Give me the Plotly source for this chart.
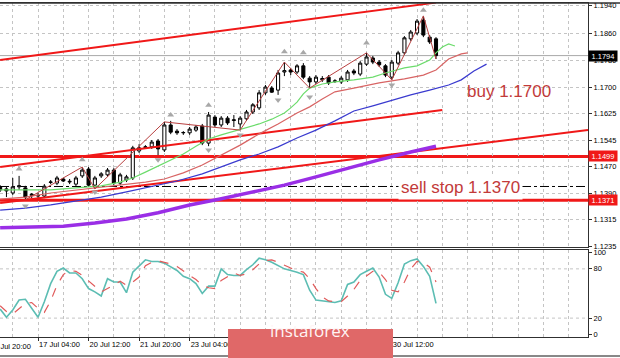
import plotly.graph_objects as go

# ---------------- data ----------------
bar_index = list(range(2, 72))
open_ = [1.1410, 1.1404, 1.1392, 1.1410, 1.1407, 1.1385, 1.1383, 1.1383, 1.1423, 1.1421,
         1.1433, 1.1424, 1.1418, 1.1442, 1.1462, 1.1415, 1.1442, 1.1445, 1.1459, 1.1421,
         1.1430, 1.1436, 1.1515, 1.1525, 1.1527, 1.1544, 1.1518, 1.1591, 1.1573, 1.1568,
         1.1568, 1.1576, 1.1588, 1.1538, 1.1614, 1.1591, 1.1611, 1.1604, 1.1594, 1.1609,
         1.1629, 1.1641, 1.1685, 1.1699, 1.1693, 1.1746, 1.1752, 1.1746, 1.1764, 1.1728,
         1.1717, 1.1723, 1.1731, 1.1718, 1.1717, 1.1723, 1.1749, 1.1740, 1.1769, 1.1787,
         1.1775, 1.1764, 1.1731, 1.1772, 1.1802, 1.1843, 1.1860, 1.1898, 1.1848, 1.1843]
high = [1.1415, 1.1410, 1.1436, 1.1442, 1.1413, 1.1392, 1.1392, 1.1418, 1.1430, 1.1442,
        1.1436, 1.1433, 1.1442, 1.1468, 1.1468, 1.1442, 1.1453, 1.1465, 1.1465, 1.1451,
        1.1445, 1.1530, 1.1535, 1.1532, 1.1547, 1.1550, 1.1600, 1.1603, 1.1579, 1.1573,
        1.1585, 1.1591, 1.1594, 1.1629, 1.1620, 1.1617, 1.1617, 1.1620, 1.1617, 1.1635,
        1.1655, 1.1693, 1.1708, 1.1705, 1.1752, 1.1775, 1.1758, 1.1769, 1.1772, 1.1734,
        1.1737, 1.1734, 1.1737, 1.1725, 1.1734, 1.1752, 1.1755, 1.1778, 1.1802, 1.1793,
        1.1781, 1.1769, 1.1781, 1.1808, 1.1851, 1.1869, 1.1901, 1.1910, 1.1854, 1.1848]
low = [1.1395, 1.1380, 1.1386, 1.1401, 1.1372, 1.1377, 1.1374, 1.1377, 1.1418, 1.1415,
       1.1424, 1.1418, 1.1412, 1.1436, 1.1410, 1.1404, 1.1436, 1.1439, 1.1415, 1.1415,
       1.1424, 1.1430, 1.1509, 1.1521, 1.1521, 1.1503, 1.1512, 1.1564, 1.1562, 1.1562,
       1.1562, 1.1571, 1.1532, 1.1529, 1.1585, 1.1585, 1.1591, 1.1585, 1.1576, 1.1603,
       1.1623, 1.1635, 1.1679, 1.1685, 1.1679, 1.1734, 1.1737, 1.1740, 1.1725, 1.1699,
       1.1711, 1.1717, 1.1708, 1.1714, 1.1711, 1.1717, 1.1737, 1.1734, 1.1764, 1.1769,
       1.1761, 1.1731, 1.1723, 1.1766, 1.1796, 1.1837, 1.1854, 1.1848, 1.1828, 1.1784]
close = [1.1401, 1.1398, 1.1410, 1.1413, 1.1380, 1.1388, 1.1385, 1.1412, 1.1424, 1.1436,
         1.1427, 1.1426, 1.1436, 1.1459, 1.1415, 1.1436, 1.1448, 1.1459, 1.1421, 1.1445,
         1.1439, 1.1524, 1.1524, 1.1527, 1.1541, 1.1521, 1.1591, 1.1570, 1.1568, 1.1569,
         1.1579, 1.1585, 1.1538, 1.1620, 1.1591, 1.1611, 1.1597, 1.1606, 1.1611, 1.1629,
         1.1650, 1.1685, 1.1702, 1.1687, 1.1743, 1.1750, 1.1746, 1.1764, 1.1731, 1.1717,
         1.1731, 1.1727, 1.1714, 1.1720, 1.1728, 1.1746, 1.1743, 1.1772, 1.1790, 1.1775,
         1.1767, 1.1737, 1.1775, 1.1802, 1.1846, 1.1863, 1.1895, 1.1854, 1.1834, 1.1794]

# Alligator-style moving averages (shifted forward)
lips_index = [2, 6, 10, 14, 18, 21, 23, 25, 27, 29, 31, 33, 35, 37, 39, 41, 43, 45, 47, 48,
              49, 50, 51, 53, 55, 58, 61, 63, 66, 68, 70, 71, 72, 73, 74]
lips_value = [1.1401, 1.1401, 1.1401, 1.1407, 1.1413, 1.1424, 1.1436, 1.1453, 1.1471, 1.1489,
              1.1506, 1.1529, 1.1550, 1.1562, 1.1573, 1.1582, 1.1594, 1.1608, 1.1626, 1.1641,
              1.1658, 1.1682, 1.1699, 1.1711, 1.1717, 1.1723, 1.1731, 1.1743, 1.1758, 1.1764,
              1.1781, 1.1802, 1.1819, 1.1828, 1.1822]
teeth_index = [2, 6, 10, 14, 17, 21, 25, 28, 31, 34, 37, 40, 43, 46, 49, 51, 53, 55, 58, 62,
               66, 69, 71, 73, 75, 76]
teeth_value = [1.1374, 1.1380, 1.1392, 1.1401, 1.1407, 1.1415, 1.1424, 1.1433, 1.1451, 1.1474,
               1.1503, 1.1532, 1.1565, 1.1594, 1.1626, 1.1644, 1.1667, 1.1688, 1.1699, 1.1714,
               1.1726, 1.1737, 1.1752, 1.1784, 1.1799, 1.1802]
jaw_index = [2, 6, 10, 14, 18, 22, 26, 30, 34, 38, 40, 43, 46, 49, 52, 55, 58, 61, 64, 67,
             70, 73, 75, 77, 79]
jaw_value = [1.1342, 1.1348, 1.1357, 1.1369, 1.1380, 1.1395, 1.1412, 1.1427, 1.1448, 1.1474,
             1.1489, 1.1506, 1.1527, 1.1553, 1.1576, 1.1603, 1.1632, 1.1647, 1.1664, 1.1679,
             1.1693, 1.1708, 1.1723, 1.1749, 1.1769]
slow_ma_index = [2, 7, 12, 17, 22, 27, 32, 37, 42, 47, 52, 57, 62, 67, 71]
slow_ma_value = [1.1290, 1.1293, 1.1295, 1.1304, 1.1316, 1.1334, 1.1357, 1.1375, 1.1395, 1.1415,
                 1.1439, 1.1465, 1.1489, 1.1512, 1.1529]

zigzag_index = [6, 15, 17, 28, 40, 47, 51, 60, 64, 69, 71]
zigzag_value = [1.1372, 1.1468, 1.1404, 1.1600, 1.1576, 1.1775, 1.1699, 1.1802, 1.1723, 1.1910, 1.1784]

fractal_up_index = [5, 15, 29, 35, 47, 50, 60, 69]
fractal_up_value = [1.1462, 1.1489, 1.1620, 1.1649, 1.1805, 1.1802, 1.1831, 1.1927]
fractal_dn_index = [6, 17, 27, 35, 40, 46, 51, 64]
fractal_dn_value = [1.1354, 1.1395, 1.1489, 1.1518, 1.1562, 1.1664, 1.1673, 1.1708]

# hand-drawn trend lines (bar index, price)
trend_upper_index = [2, 71]
trend_upper_value = [1.1781, 1.1949]
trend_mid_index = [2, 72]
trend_mid_value = [1.1468, 1.1635]
trend_low_index = [2, 95.06]
trend_low_value = [1.1363, 1.1576]

level_resistance = 1.1499
level_support = 1.1371
sell_stop_level = 1.1411
last_price = 1.1794

stoch_main = [31, 21, 30, 42, 43, 32, 21, 40, 62, 77, 81, 75, 75, 68, 56, 52, 47, 68, 64, 64,
              51, 76, 84, 91, 89, 89, 87, 83, 78, 71, 68, 62, 50, 59, 59, 80, 73, 72, 72, 79,
              85, 93, 91, 88, 84, 80, 78, 76, 73, 54, 42, 41, 40, 39, 41, 61, 64, 73, 77, 81,
              70, 49, 44, 63, 86, 90, 92, 83, 71, 38]
stoch_signal = [35, 28, 25, 31, 38, 39, 32, 27, 41, 60, 73, 78, 77, 72, 65, 58, 52, 56, 60, 65,
                60, 64, 70, 84, 88, 90, 88, 86, 83, 77, 72, 67, 60, 57, 56, 66, 71, 75, 72, 74,
                79, 86, 90, 91, 88, 84, 81, 78, 76, 68, 56, 46, 41, 40, 40, 47, 55, 66, 71, 77,
                76, 67, 54, 52, 64, 80, 89, 88, 82, 64]
stoch_levels = [20, 80]

time_tick_index = [8, 16, 24, 32, 40, 48, 56, 64]
time_tick_text = ["17 Jul 04:00", "20 Jul 12:00", "21 Jul 20:00", "23 Jul 04:00",
                  "24 Jul 12:00", "27 Jul 20:00", "29 Jul 04:00", "30 Jul 12:00"]
first_time_label = "16 Jul 20:00"
price_ticks = [1.1940, 1.1860, 1.1780, 1.1700, 1.1625, 1.1545, 1.1470, 1.1390, 1.1315, 1.1235]
stoch_ticks = [0, 20, 80, 100]

# ---------------- figure ----------------
RED = "#F01818"
GRID = "#C4C4C4"
AXIS = "#303030"
TXT = "#C23A3A"
FONT = "Liberation Sans"
X_RANGE = [1.98, 95.06]

fig = go.Figure()

def line_trace(xs, ys, color, width, xa="x", ya="y", dash=None):
    fig.add_trace(go.Scatter(x=xs, y=ys, mode="lines", xaxis=xa, yaxis=ya,
                             line=dict(color=color, width=width, dash=dash),
                             hoverinfo="skip", showlegend=False))

line_trace(trend_upper_index, trend_upper_value, RED, 2)
line_trace(trend_mid_index, trend_mid_value, RED, 2)
line_trace(trend_low_index, trend_low_value, RED, 2)
line_trace(slow_ma_index, slow_ma_value, "#9A2EE6", 3.5)
line_trace(jaw_index, jaw_value, "#3A3ACF", 1.2)
line_trace(teeth_index, teeth_value, "#D86464", 1.2)
line_trace(lips_index, lips_value, "#6CDC6C", 1.2)

fig.add_trace(go.Candlestick(
    x=bar_index, open=open_, high=high, low=low, close=close,
    increasing=dict(line=dict(color="#000000", width=1), fillcolor="#FFFFFF"),
    decreasing=dict(line=dict(color="#000000", width=1), fillcolor="#000000"),
    xaxis="x", yaxis="y", hoverinfo="skip", showlegend=False))

line_trace(zigzag_index, zigzag_value, "#B84040", 1)

fig.add_trace(go.Scatter(x=fractal_up_index, y=fractal_up_value, mode="markers",
                         marker=dict(symbol="triangle-up", size=6, color="#A8A8A8"),
                         hoverinfo="skip", showlegend=False))
fig.add_trace(go.Scatter(x=fractal_dn_index, y=fractal_dn_value, mode="markers",
                         marker=dict(symbol="triangle-down", size=6, color="#A8A8A8"),
                         hoverinfo="skip", showlegend=False))

# stochastic
line_trace(bar_index, stoch_main, "#5CBDB3", 1.6, "x2", "y2")
line_trace(bar_index, stoch_signal, "#E05A5A", 1.2, "x2", "y2", dash="dash")

# horizontal levels
shapes = []
for lvl, col, w, dash in [(last_price, "#A8A8A8", 1, "solid"),
                          (sell_stop_level, "#000000", 1, "dashdot"),
                          (level_resistance, RED, 3, "solid"),
                          (level_support, RED, 3, "solid")]:
    shapes.append(dict(type="line", xref="x domain", x0=0, x1=1, yref="y", y0=lvl, y1=lvl,
                       line=dict(color=col, width=w, dash=dash), layer="below"))
for lvl in stoch_levels:
    shapes.append(dict(type="line", xref="x2 domain", x0=0, x1=1, yref="y2", y0=lvl, y1=lvl,
                       line=dict(color=GRID, width=1, dash="dot"), layer="below"))
# outer frame lines
shapes.append(dict(type="line", xref="paper", yref="paper", x0=0, x1=1.06, y0=1.0, y1=1.0,
                   line=dict(color=AXIS, width=1.5)))
shapes.append(dict(type="line", xref="paper", yref="paper", x0=0, x1=1.06, y0=-0.057, y1=-0.057,
                   line=dict(color="#606060", width=1.5)))
# logo
shapes.append(dict(type="rect", xref="paper", yref="paper", x0=0.3878, x1=0.6684, y0=-0.08, y1=0.024,
                   fillcolor="#E06868", line=dict(width=0), layer="above"))

annotations = [
    dict(text="buy 1.1700", x=82.6, y=1.1690, xref="x", yref="y", showarrow=False,
         font=dict(family=FONT, size=17, color=TXT)),
    dict(text="sell stop 1.1370", x=74.8, y=1.1409, xref="x", yref="y", showarrow=False,
         font=dict(family=FONT, size=17, color=TXT), bgcolor="#FFFFFF", borderpad=2),
    dict(text=first_time_label, x=-12.5 / 588, y=-0.027, xref="paper", yref="paper",
         xanchor="left", yanchor="middle", showarrow=False,
         font=dict(family=FONT, size=7.5, color="#000000")),
    dict(text="instaforex", x=0.527, y=-0.02, xref="paper", yref="paper", showarrow=False,
         font=dict(family="Open Sans", size=17, color="#FFF4F4")),
]
for val, bg in [(last_price, "#000000"), (level_resistance, "#F01818"), (level_support, "#F01818")]:
    annotations.append(dict(text=f"{val:.4f}", x=1, y=val, xref="paper", yref="y",
                            xanchor="left", yanchor="middle", showarrow=False, bgcolor=bg,
                            borderpad=0.5, width=27,
                            font=dict(family=FONT, size=7.5, color="#FFFFFF")))

tickfont = dict(family=FONT, size=7.5, color="#000000")
minor_grid = dict(tickmode="linear", tick0=0, dtick=4, showgrid=True, gridcolor=GRID,
                  griddash="dot", gridwidth=1, ticks="")

fig.update_layout(
    width=620, height=358,
    margin=dict(l=0, r=32, t=3, b=21, autoexpand=False),
    paper_bgcolor="#FFFFFF", plot_bgcolor="#FFFFFF",
    showlegend=False, hovermode=False,
    font=dict(family=FONT),
    shapes=shapes, annotations=annotations,
    xaxis=dict(domain=[0, 1], range=X_RANGE, anchor="y", showticklabels=False,
               tickmode="array", tickvals=time_tick_index, ticks="",
               showgrid=True, gridcolor=GRID, griddash="dot", minor=minor_grid,
               showline=True, mirror=True, linecolor=AXIS, linewidth=1,
               zeroline=False, rangeslider=dict(visible=False), automargin=False),
    xaxis2=dict(domain=[0, 1], range=X_RANGE, anchor="y2", matches="x",
                tickmode="array", tickvals=time_tick_index, ticktext=time_tick_text,
                ticks="outside", ticklen=3, tickcolor=AXIS, ticklabelposition="outside right",
                tickfont=tickfont, showgrid=True, gridcolor=GRID, griddash="dot",
                minor=minor_grid, showline=True, mirror=True, linecolor=AXIS, linewidth=1,
                zeroline=False, automargin=False),
    yaxis=dict(domain=[0.2695, 1], range=[1.12340, 1.19479], anchor="x", side="right",
               tickmode="array", tickvals=price_ticks, tickformat=".4f",
               ticks="outside", ticklen=3, tickcolor=AXIS, tickfont=tickfont,
               showgrid=True, gridcolor=GRID, griddash="dot", automargin=False,
               showline=True, linecolor=AXIS, linewidth=1, zeroline=False),
    yaxis2=dict(domain=[0, 0.2605], range=[-3, 103], anchor="x2", side="right",
                tickmode="array", tickvals=stoch_ticks, automargin=False,
                ticks="outside", ticklen=3, tickcolor=AXIS, tickfont=tickfont,
                showgrid=False, showline=True, linecolor=AXIS, linewidth=1, zeroline=False),
)

fig.write_html("out.html", config={"displayModeBar": False},
               post_script="document.body.style.margin='0px';")
